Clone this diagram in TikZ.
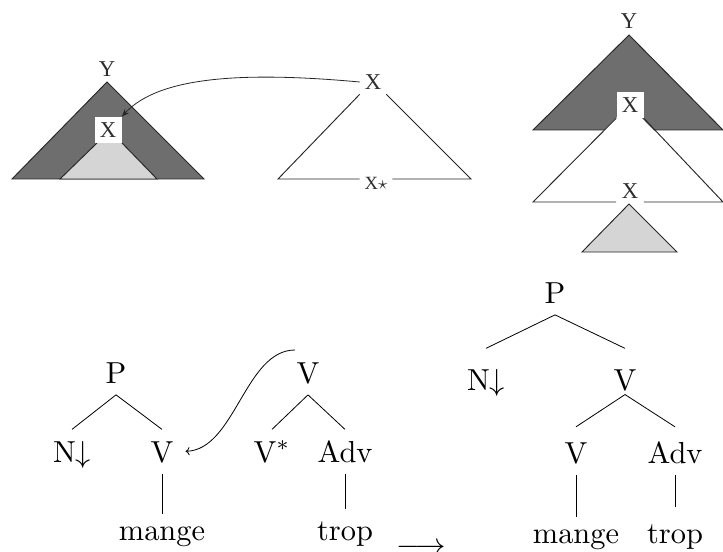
\documentclass[tikz,border=0pt]{standalone}
\usepackage{fontspec}
\newfontfamily\topfont{Liberation Serif}
\usetikzlibrary{arrows.meta}
\definecolor{darkg}{HTML}{6E6E6E}
\definecolor{lightg}{HTML}{D5D5D5}
\definecolor{topink}{HTML}{2E2E2E}
\begin{document}
\begin{tikzpicture}[x=0.75pt,y=-0.75pt,
  lab/.style={scale=2.28,inner xsep=0pt,inner ysep=3.7pt,text height=6.83pt,text depth=0pt,anchor=base},
  labhi/.style={lab,inner ysep=1.3pt,text height=12.2pt},
  labmid/.style={lab,text height=8pt},
  leaf/.style={scale=2.28,inner xsep=0pt,inner ysep=3.7pt,anchor=base},
  tl/.style={font=\topfont\fontsize{17}{19}\selectfont,text=topink,inner sep=0pt},
  tls/.style={font=\topfont\fontsize{14}{16}\selectfont,text=topink,inner sep=0pt},
  box/.style={tl,fill=white,minimum width=20.25pt,minimum height=19.5pt},
  edge/.style={line width=0.6pt},
  tri/.style={draw=black!85,line width=0.7pt}
]
\useasboundingbox (0,0) rectangle (723,552);

% ---------- top left ----------
\path[tri,fill=darkg] (12,179) -- (107,82) -- (204,179) -- cycle;
\path[tri,fill=lightg] (97,143) -- (60,179) -- (157,179) -- (122,143);
\node[box] (x1) at (108,130) {X};
\node[tl] (y1) at (107,69) {Y};

% ---------- top middle ----------
\node[tl,minimum width=19.5pt,minimum height=18pt] (x2) at (373,82) {X};
\node[tls,minimum width=24pt] (xs) at (376,183) {X$\star$};
\coordinate (ml) at (278,179);
\coordinate (mr) at (471,179);
\draw[tri] (x2.south west) -- (ml) -- (xs.west |- ml);
\draw[tri] (xs.east |- mr) -- (mr) -- (x2.south east);
\draw[line width=0.6pt,draw=black!85,-{Stealth[length=6pt,width=4.5pt]}]
  (x2.west) .. controls (250,72) and (160,75) .. (x1.north east);

% ---------- top right ----------
\node[tl] (y3) at (629,21) {Y};
\path[tri,fill=darkg] (533,130) -- (629,35) -- (723,130) -- cycle;
\path[fill=white] (533,202) -- (629,105) -- (723,202) -- cycle;
\node[box] (x3) at (630,105) {X};
\node[tl,minimum width=20.25pt] (x4) at (630,191) {X};
\coordinate (rl) at (533,202);
\coordinate (rr) at (723,202);
\draw[tri] (x3.south west) -- (rl) -- (x4.west |- rl);
\draw[tri] (x4.east |- rr) -- (rr) -- (x3.south east);
\path[tri,fill=lightg] (629,204) -- (582,252) -- (677,252) -- cycle;

% ---------- bottom tree 1 ----------
\node[lab] (p1) at (116,383) {P};
\node[lab] (n1) at (72,462) {N$\downarrow$};
\node[lab] (v1) at (162,462) {V};
\node[leaf] (m1) at (162,540) {mange};
\draw[edge] (p1.south) -- (n1.north);
\draw[edge] (p1.south) -- (v1.north);
\draw[edge] (v1.south) -- (m1.north);

% ---------- bottom tree 2 ----------
\node[lab] (v2) at (308,383) {V};
\node[lab] (vs) at (272,462) {V$^*$};
\node[lab] (a2) at (345,462) {Adv};
\node[leaf] (t2) at (345,540) {trop};
\draw[edge] (v2.south) -- (vs.north);
\draw[edge] (v2.south) -- (a2.north);
\draw[edge] (a2.south) -- (t2.north);

\coordinate (c0) at (295,350);
\draw[edge,->,shorten >=8.7pt] (c0) .. controls (245,350) and (235,450) .. (v1.east);

% ---------- result arrow ----------
\node[scale=2.28,inner sep=0pt,anchor=base] (res) at (421,554.5) {$\longrightarrow$};

% ---------- bottom tree 3 ----------
\node[lab] (p3) at (555,303) {P};
\node[labhi] (n3) at (486,390) {N$\downarrow$};
\node[labhi] (v3) at (625,390) {V};
\node[labmid] (v4) at (576,463) {V};
\node[labmid] (a3) at (675,463) {Adv};
\node[leaf] (m3) at (576,543) {mange};
\node[leaf,text height=8pt] (t3) at (675,543) {trop};
\draw[edge] (p3.south) -- (n3.north);
\draw[edge] (p3.south) -- (v3.north);
\draw[edge] (v3.south) -- (v4.north);
\draw[edge] (v3.south) -- (a3.north);
\draw[edge] (v4.south) -- (m3.north);
\draw[edge] (a3.south) -- (t3.north);
\end{tikzpicture}
\end{document}
